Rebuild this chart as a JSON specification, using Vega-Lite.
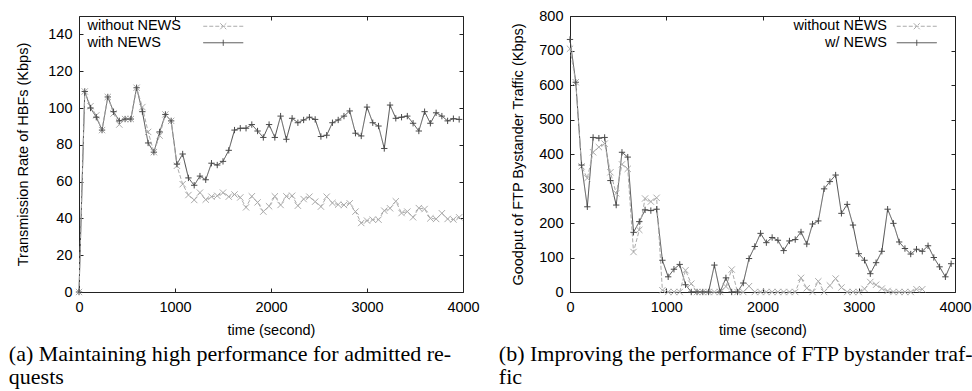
{
  "$schema": "https://vega.github.io/schema/vega-lite/v6.json",
  "padding": {"left": 8, "top": 7, "right": 5, "bottom": 5},
  "background": "white",
  "datasets": {
    "a": [
      {"s":"with NEWS","t":0,"v":0},{"s":"with NEWS","t":60,"v":109},{"s":"with NEWS","t":120,"v":100},{"s":"with NEWS","t":180,"v":95},{"s":"with NEWS","t":240,"v":88},{"s":"with NEWS","t":300,"v":106},{"s":"with NEWS","t":360,"v":98},{"s":"with NEWS","t":420,"v":93},{"s":"with NEWS","t":480,"v":94},{"s":"with NEWS","t":540,"v":94},{"s":"with NEWS","t":600,"v":111},{"s":"with NEWS","t":660,"v":98},{"s":"with NEWS","t":720,"v":81},{"s":"with NEWS","t":780,"v":76},{"s":"with NEWS","t":840,"v":87},{"s":"with NEWS","t":900,"v":96.5},{"s":"with NEWS","t":960,"v":93},{"s":"with NEWS","t":1020,"v":69.5},{"s":"with NEWS","t":1080,"v":75},{"s":"with NEWS","t":1140,"v":62},{"s":"with NEWS","t":1200,"v":58},{"s":"with NEWS","t":1260,"v":63},{"s":"with NEWS","t":1320,"v":61},{"s":"with NEWS","t":1380,"v":70},{"s":"with NEWS","t":1440,"v":69},{"s":"with NEWS","t":1500,"v":71},{"s":"with NEWS","t":1560,"v":77},{"s":"with NEWS","t":1620,"v":88},{"s":"with NEWS","t":1680,"v":89},{"s":"with NEWS","t":1740,"v":89},{"s":"with NEWS","t":1800,"v":91},{"s":"with NEWS","t":1860,"v":87.5},{"s":"with NEWS","t":1920,"v":84},{"s":"with NEWS","t":1980,"v":91},{"s":"with NEWS","t":2040,"v":84},{"s":"with NEWS","t":2100,"v":95.6},{"s":"with NEWS","t":2160,"v":83},{"s":"with NEWS","t":2220,"v":94.4},{"s":"with NEWS","t":2280,"v":92},{"s":"with NEWS","t":2340,"v":93.5},{"s":"with NEWS","t":2400,"v":95},{"s":"with NEWS","t":2460,"v":93.8},{"s":"with NEWS","t":2520,"v":84.5},{"s":"with NEWS","t":2580,"v":85.2},{"s":"with NEWS","t":2640,"v":92},{"s":"with NEWS","t":2700,"v":93.5},{"s":"with NEWS","t":2760,"v":95.6},{"s":"with NEWS","t":2820,"v":98.4},{"s":"with NEWS","t":2880,"v":86.3},{"s":"with NEWS","t":2940,"v":84.8},{"s":"with NEWS","t":3000,"v":100.5},{"s":"with NEWS","t":3060,"v":92},{"s":"with NEWS","t":3120,"v":90.2},{"s":"with NEWS","t":3180,"v":78},{"s":"with NEWS","t":3240,"v":101.6},{"s":"with NEWS","t":3300,"v":94.4},{"s":"with NEWS","t":3360,"v":95},{"s":"with NEWS","t":3420,"v":95.6},{"s":"with NEWS","t":3480,"v":91.7},{"s":"with NEWS","t":3540,"v":87.5},{"s":"with NEWS","t":3600,"v":98},{"s":"with NEWS","t":3660,"v":91.7},{"s":"with NEWS","t":3720,"v":97.4},{"s":"with NEWS","t":3780,"v":95.6},{"s":"with NEWS","t":3840,"v":93},{"s":"with NEWS","t":3900,"v":94.2},{"s":"with NEWS","t":3960,"v":93.8},
      {"s":"without NEWS","t":0,"v":0},{"s":"without NEWS","t":60,"v":109},{"s":"without NEWS","t":120,"v":101},{"s":"without NEWS","t":180,"v":96},{"s":"without NEWS","t":240,"v":88},{"s":"without NEWS","t":300,"v":106},{"s":"without NEWS","t":360,"v":97},{"s":"without NEWS","t":420,"v":91},{"s":"without NEWS","t":480,"v":94},{"s":"without NEWS","t":540,"v":94},{"s":"without NEWS","t":600,"v":111},{"s":"without NEWS","t":660,"v":100.5},{"s":"without NEWS","t":720,"v":87},{"s":"without NEWS","t":780,"v":76},{"s":"without NEWS","t":840,"v":85},{"s":"without NEWS","t":900,"v":96.5},{"s":"without NEWS","t":960,"v":93},{"s":"without NEWS","t":1020,"v":68.6},{"s":"without NEWS","t":1080,"v":58.6},{"s":"without NEWS","t":1140,"v":52.7},{"s":"without NEWS","t":1200,"v":50},{"s":"without NEWS","t":1260,"v":54},{"s":"without NEWS","t":1320,"v":50.2},{"s":"without NEWS","t":1380,"v":51.8},{"s":"without NEWS","t":1440,"v":52.3},{"s":"without NEWS","t":1500,"v":54},{"s":"without NEWS","t":1560,"v":51.8},{"s":"without NEWS","t":1620,"v":53},{"s":"without NEWS","t":1680,"v":51.4},{"s":"without NEWS","t":1740,"v":46},{"s":"without NEWS","t":1800,"v":52},{"s":"without NEWS","t":1860,"v":48.7},{"s":"without NEWS","t":1920,"v":43.7},{"s":"without NEWS","t":1980,"v":46.6},{"s":"without NEWS","t":2040,"v":52},{"s":"without NEWS","t":2100,"v":47.3},{"s":"without NEWS","t":2160,"v":52},{"s":"without NEWS","t":2220,"v":52.3},{"s":"without NEWS","t":2280,"v":46.9},{"s":"without NEWS","t":2340,"v":50.5},{"s":"without NEWS","t":2400,"v":51.8},{"s":"without NEWS","t":2460,"v":49.1},{"s":"without NEWS","t":2520,"v":46.4},{"s":"without NEWS","t":2580,"v":51.8},{"s":"without NEWS","t":2640,"v":48.4},{"s":"without NEWS","t":2700,"v":47.5},{"s":"without NEWS","t":2760,"v":47.3},{"s":"without NEWS","t":2820,"v":48.2},{"s":"without NEWS","t":2880,"v":43.7},{"s":"without NEWS","t":2940,"v":37.5},{"s":"without NEWS","t":3000,"v":38.8},{"s":"without NEWS","t":3060,"v":39.3},{"s":"without NEWS","t":3120,"v":39.3},{"s":"without NEWS","t":3180,"v":44.2},{"s":"without NEWS","t":3240,"v":45.5},{"s":"without NEWS","t":3300,"v":49.3},{"s":"without NEWS","t":3360,"v":42.9},{"s":"without NEWS","t":3420,"v":43.7},{"s":"without NEWS","t":3480,"v":40.6},{"s":"without NEWS","t":3540,"v":45.6},{"s":"without NEWS","t":3600,"v":45.1},{"s":"without NEWS","t":3660,"v":40},{"s":"without NEWS","t":3720,"v":39.7},{"s":"without NEWS","t":3780,"v":42.8},{"s":"without NEWS","t":3840,"v":39.7},{"s":"without NEWS","t":3900,"v":39.4},{"s":"without NEWS","t":3960,"v":40.6}
    ],
    "b": [
      {"s":"w/ NEWS","t":0,"v":732},{"s":"w/ NEWS","t":60,"v":608},{"s":"w/ NEWS","t":120,"v":368},{"s":"w/ NEWS","t":180,"v":247},{"s":"w/ NEWS","t":240,"v":448},{"s":"w/ NEWS","t":300,"v":446},{"s":"w/ NEWS","t":360,"v":448},{"s":"w/ NEWS","t":420,"v":323},{"s":"w/ NEWS","t":480,"v":252},{"s":"w/ NEWS","t":540,"v":405},{"s":"w/ NEWS","t":600,"v":391},{"s":"w/ NEWS","t":660,"v":173},{"s":"w/ NEWS","t":720,"v":204},{"s":"w/ NEWS","t":780,"v":238},{"s":"w/ NEWS","t":840,"v":236},{"s":"w/ NEWS","t":900,"v":240},{"s":"w/ NEWS","t":960,"v":92},{"s":"w/ NEWS","t":1020,"v":44},{"s":"w/ NEWS","t":1080,"v":66},{"s":"w/ NEWS","t":1140,"v":80},{"s":"w/ NEWS","t":1200,"v":21},{"s":"w/ NEWS","t":1260,"v":0},{"s":"w/ NEWS","t":1320,"v":0},{"s":"w/ NEWS","t":1380,"v":0},{"s":"w/ NEWS","t":1440,"v":0},{"s":"w/ NEWS","t":1500,"v":78},{"s":"w/ NEWS","t":1560,"v":0},{"s":"w/ NEWS","t":1620,"v":41},{"s":"w/ NEWS","t":1680,"v":0},{"s":"w/ NEWS","t":1740,"v":0},{"s":"w/ NEWS","t":1800,"v":26},{"s":"w/ NEWS","t":1860,"v":97},{"s":"w/ NEWS","t":1920,"v":132},{"s":"w/ NEWS","t":1980,"v":170},{"s":"w/ NEWS","t":2040,"v":143},{"s":"w/ NEWS","t":2100,"v":158},{"s":"w/ NEWS","t":2160,"v":150},{"s":"w/ NEWS","t":2220,"v":120},{"s":"w/ NEWS","t":2280,"v":148},{"s":"w/ NEWS","t":2340,"v":152},{"s":"w/ NEWS","t":2400,"v":174},{"s":"w/ NEWS","t":2460,"v":139},{"s":"w/ NEWS","t":2520,"v":197},{"s":"w/ NEWS","t":2580,"v":206},{"s":"w/ NEWS","t":2640,"v":299},{"s":"w/ NEWS","t":2700,"v":320},{"s":"w/ NEWS","t":2760,"v":339},{"s":"w/ NEWS","t":2820,"v":228},{"s":"w/ NEWS","t":2880,"v":254},{"s":"w/ NEWS","t":2940,"v":194},{"s":"w/ NEWS","t":3000,"v":111},{"s":"w/ NEWS","t":3060,"v":92},{"s":"w/ NEWS","t":3120,"v":53},{"s":"w/ NEWS","t":3180,"v":85},{"s":"w/ NEWS","t":3240,"v":118},{"s":"w/ NEWS","t":3300,"v":240},{"s":"w/ NEWS","t":3360,"v":199},{"s":"w/ NEWS","t":3420,"v":145},{"s":"w/ NEWS","t":3480,"v":126},{"s":"w/ NEWS","t":3540,"v":110},{"s":"w/ NEWS","t":3600,"v":124},{"s":"w/ NEWS","t":3660,"v":118},{"s":"w/ NEWS","t":3720,"v":134},{"s":"w/ NEWS","t":3780,"v":100},{"s":"w/ NEWS","t":3840,"v":73},{"s":"w/ NEWS","t":3900,"v":44},{"s":"w/ NEWS","t":3960,"v":82},
      {"s":"without NEWS","t":0,"v":705},{"s":"without NEWS","t":60,"v":608},{"s":"without NEWS","t":120,"v":364},{"s":"without NEWS","t":180,"v":330},{"s":"without NEWS","t":240,"v":405},{"s":"without NEWS","t":300,"v":420},{"s":"without NEWS","t":360,"v":430},{"s":"without NEWS","t":420,"v":347},{"s":"without NEWS","t":480,"v":286},{"s":"without NEWS","t":540,"v":370},{"s":"without NEWS","t":600,"v":357},{"s":"without NEWS","t":660,"v":116},{"s":"without NEWS","t":720,"v":180},{"s":"without NEWS","t":780,"v":271},{"s":"without NEWS","t":840,"v":262},{"s":"without NEWS","t":900,"v":273},{"s":"without NEWS","t":960,"v":5},{"s":"without NEWS","t":1020,"v":0},{"s":"without NEWS","t":1080,"v":0},{"s":"without NEWS","t":1140,"v":0},{"s":"without NEWS","t":1200,"v":63},{"s":"without NEWS","t":1260,"v":24},{"s":"without NEWS","t":1320,"v":0},{"s":"without NEWS","t":1380,"v":0},{"s":"without NEWS","t":1440,"v":0},{"s":"without NEWS","t":1500,"v":0},{"s":"without NEWS","t":1560,"v":0},{"s":"without NEWS","t":1620,"v":16},{"s":"without NEWS","t":1680,"v":65},{"s":"without NEWS","t":1740,"v":0},{"s":"without NEWS","t":1800,"v":0},{"s":"without NEWS","t":1860,"v":17},{"s":"without NEWS","t":1920,"v":0},{"s":"without NEWS","t":1980,"v":0},{"s":"without NEWS","t":2040,"v":0},{"s":"without NEWS","t":2100,"v":0},{"s":"without NEWS","t":2160,"v":0},{"s":"without NEWS","t":2220,"v":0},{"s":"without NEWS","t":2280,"v":0},{"s":"without NEWS","t":2340,"v":0},{"s":"without NEWS","t":2400,"v":41},{"s":"without NEWS","t":2460,"v":11},{"s":"without NEWS","t":2520,"v":0},{"s":"without NEWS","t":2580,"v":31},{"s":"without NEWS","t":2640,"v":0},{"s":"without NEWS","t":2700,"v":19},{"s":"without NEWS","t":2760,"v":39},{"s":"without NEWS","t":2820,"v":13},{"s":"without NEWS","t":2880,"v":0},{"s":"without NEWS","t":2940,"v":0},{"s":"without NEWS","t":3000,"v":0},{"s":"without NEWS","t":3060,"v":9},{"s":"without NEWS","t":3120,"v":29},{"s":"without NEWS","t":3180,"v":21},{"s":"without NEWS","t":3240,"v":10},{"s":"without NEWS","t":3300,"v":3},{"s":"without NEWS","t":3360,"v":0},{"s":"without NEWS","t":3420,"v":0},{"s":"without NEWS","t":3480,"v":0},{"s":"without NEWS","t":3540,"v":0},{"s":"without NEWS","t":3600,"v":8},{"s":"without NEWS","t":3660,"v":8}
    ]
  },
  "config": {
    "view": {"stroke": "#222222", "strokeWidth": 1},
    "font": "Liberation Sans",
    "axis": {
      "labelFont": "Liberation Sans", "labelFontSize": 14.5, "labelColor": "#000000", "labelFlush": false,
      "titleFont": "Liberation Sans", "titleFontSize": 14.5, "titleFontWeight": "normal", "titleColor": "#000000",
      "domain": false, "grid": false, "tickSize": -4, "tickColor": "#222222", "tickWidth": 1
    },
    "legend": {"labelFont": "Liberation Sans", "labelFontSize": 14.5, "labelColor": "#000000"}
  },
  "hconcat": [
    {
      "width": 384, "height": 276,
      "data": {"name": "a"},
      "title": {"text": ["(a) Maintaining high performance for admitted re-", "quests"], "orient": "bottom", "anchor": "start", "frame": "bounds", "font": "Liberation Serif", "fontSize": 22, "fontWeight": "normal", "color": "#000000", "lineHeight": 23, "offset": 7, "dx": -7},
      "layer": [
        {
          "mark": {"type": "line", "strokeWidth": 1},
          "encoding": {
            "x": {"field": "t", "type": "quantitative", "scale": {"domain": [0, 4000], "nice": false, "zero": false, "padding": 0}, "axis": {"values": [0, 1000, 2000, 3000, 4000], "format": "d", "title": "time (second)", "labelPadding": 12, "titlePadding": 10}},
            "y": {"field": "v", "type": "quantitative", "scale": {"domain": [0, 150], "nice": false, "padding": 0}, "axis": {"values": [0, 20, 40, 60, 80, 100, 120, 140], "title": "Transmission Rate of HBFs (Kbps)", "labelPadding": 11, "titlePadding": 17}},
            "color": {"field": "s", "type": "nominal", "scale": {"domain": ["without NEWS", "with NEWS"], "range": ["#ababab", "#4a4a4a"]},
              "legend": {"orient": "none", "legendX": 137, "legendY": 3, "title": null, "padding": 0, "symbolSize": 100, "labelAlign": "left", "labelOffset": -143, "rowPadding": 1.5, "symbolStrokeWidth": 1,
                "encode": {"symbols": {"update": {
                  "shape": {"signal": "datum.value === 'without NEWS' ? 'M-4,0L4,0M-0.6,-0.6L0.6,0.6M-0.6,0.6L0.6,-0.6' : 'M-4,0L4,0M0,-0.6L0,0.6'"},
                  "strokeDash": {"signal": "datum.value === 'without NEWS' ? [4,2] : [1,0]"},
                  "fill": {"value": "transparent"}}}}}},
            "strokeDash": {"field": "s", "type": "nominal", "scale": {"domain": ["without NEWS", "with NEWS"], "range": [[4, 2], [1, 0]]}, "legend": null}
          }
        },
        {
          "transform": [{"filter": "datum.s === 'without NEWS'"}],
          "mark": {"type": "point", "filled": false, "strokeWidth": 1, "size": 40, "opacity": 1, "color": "#ababab", "shape": "M-1,-1L1,1M-1,1L1,-1"},
          "encoding": {
            "x": {"field": "t", "type": "quantitative", "scale": {"domain": [0, 4000], "nice": false, "zero": false, "padding": 0}, "axis": {"orient": "top", "values": [0, 1000, 2000, 3000, 4000], "labels": false, "title": null}},
            "y": {"field": "v", "type": "quantitative", "scale": {"domain": [0, 150], "nice": false, "padding": 0}, "axis": {"orient": "right", "values": [0, 20, 40, 60, 80, 100, 120, 140], "labels": false, "title": null}}
          }
        },
        {
          "transform": [{"filter": "datum.s === 'with NEWS'"}],
          "mark": {"type": "point", "filled": false, "strokeWidth": 1, "size": 40, "opacity": 1, "color": "#4a4a4a", "shape": "M-1,0L1,0M0,-1L0,1"},
          "encoding": {
            "x": {"field": "t", "type": "quantitative", "scale": {"domain": [0, 4000], "nice": false, "zero": false, "padding": 0}, "axis": null},
            "y": {"field": "v", "type": "quantitative", "scale": {"domain": [0, 150], "nice": false, "padding": 0}, "axis": null}
          }
        }
      ],
      "resolve": {"axis": {"x": "independent", "y": "independent"}}
    },
    {
      "width": 385, "height": 276,
      "data": {"name": "b"},
      "title": {"text": ["(b) Improving the performance of FTP bystander traf-", "fic"], "orient": "bottom", "anchor": "start", "frame": "bounds", "font": "Liberation Serif", "fontSize": 22, "fontWeight": "normal", "color": "#000000", "lineHeight": 23, "offset": 7, "dx": -12},
      "layer": [
        {
          "mark": {"type": "line", "strokeWidth": 1},
          "encoding": {
            "x": {"field": "t", "type": "quantitative", "scale": {"domain": [0, 4000], "nice": false, "zero": false, "padding": 0}, "axis": {"values": [0, 1000, 2000, 3000, 4000], "format": "d", "title": "time (second)", "labelPadding": 12, "titlePadding": 10}},
            "y": {"field": "v", "type": "quantitative", "scale": {"domain": [0, 800], "nice": false, "padding": 0}, "axis": {"values": [0, 100, 200, 300, 400, 500, 600, 700, 800], "title": "Goodput of FTP Bystander Traffic (Kbps)", "labelPadding": 11, "titlePadding": 13}},
            "color": {"field": "s", "type": "nominal", "scale": {"domain": ["without NEWS", "w/ NEWS"], "range": ["#ababab", "#4a4a4a"]},
              "legend": {"orient": "none", "legendX": 339.5, "legendY": 3, "title": null, "padding": 0, "symbolSize": 100, "labelAlign": "right", "labelOffset": -37, "rowPadding": 1.5, "symbolStrokeWidth": 1,
                "encode": {"symbols": {"update": {
                  "shape": {"signal": "datum.value === 'without NEWS' ? 'M-4,0L4,0M-0.6,-0.6L0.6,0.6M-0.6,0.6L0.6,-0.6' : 'M-4,0L4,0M0,-0.6L0,0.6'"},
                  "strokeDash": {"signal": "datum.value === 'without NEWS' ? [4,2] : [1,0]"},
                  "fill": {"value": "transparent"}}}}}},
            "strokeDash": {"field": "s", "type": "nominal", "scale": {"domain": ["without NEWS", "w/ NEWS"], "range": [[4, 2], [1, 0]]}, "legend": null}
          }
        },
        {
          "transform": [{"filter": "datum.s === 'without NEWS'"}],
          "mark": {"type": "point", "filled": false, "strokeWidth": 1, "size": 40, "opacity": 1, "color": "#ababab", "shape": "M-1,-1L1,1M-1,1L1,-1"},
          "encoding": {
            "x": {"field": "t", "type": "quantitative", "scale": {"domain": [0, 4000], "nice": false, "zero": false, "padding": 0}, "axis": {"orient": "top", "values": [0, 1000, 2000, 3000, 4000], "labels": false, "title": null}},
            "y": {"field": "v", "type": "quantitative", "scale": {"domain": [0, 800], "nice": false, "padding": 0}, "axis": {"orient": "right", "values": [0, 100, 200, 300, 400, 500, 600, 700, 800], "labels": false, "title": null}}
          }
        },
        {
          "transform": [{"filter": "datum.s === 'w/ NEWS'"}],
          "mark": {"type": "point", "filled": false, "strokeWidth": 1, "size": 40, "opacity": 1, "color": "#4a4a4a", "shape": "M-1,0L1,0M0,-1L0,1"},
          "encoding": {
            "x": {"field": "t", "type": "quantitative", "scale": {"domain": [0, 4000], "nice": false, "zero": false, "padding": 0}, "axis": null},
            "y": {"field": "v", "type": "quantitative", "scale": {"domain": [0, 800], "nice": false, "padding": 0}, "axis": null}
          }
        }
      ],
      "resolve": {"axis": {"x": "independent", "y": "independent"}}
    }
  ],
  "resolve": {"scale": {"color": "independent", "strokeDash": "independent", "x": "independent", "y": "independent"}, "legend": {"color": "independent"}},
  "spacing": 107,
  "bounds": "flush"
}
